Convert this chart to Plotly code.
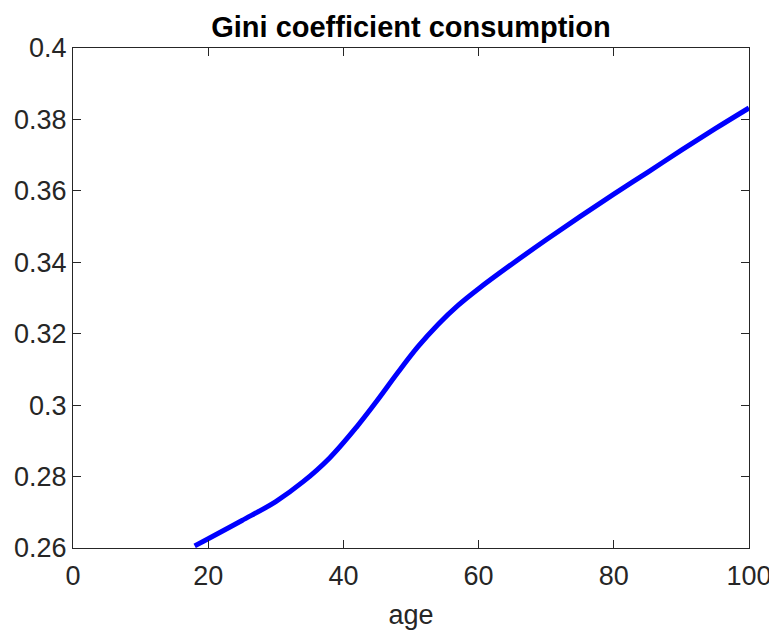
import plotly.graph_objects as go

age = [18, 20, 25, 30, 34, 38, 42, 45, 48, 51, 54, 57, 60, 65, 70, 75, 80, 85, 90, 95, 100]
gini = [0.2606, 0.2626, 0.2677, 0.2730, 0.2785, 0.2853, 0.2940, 0.3013, 0.3090, 0.3163,
        0.3226, 0.3280, 0.3326, 0.3396, 0.3463, 0.3528, 0.3591, 0.3652, 0.3714, 0.3774, 0.3832]

x_ticks = [0, 20, 40, 60, 80, 100]
y_ticks = [0.26, 0.28, 0.3, 0.32, 0.34, 0.36, 0.38, 0.4]
y_labels = ["0.26", "0.28", "0.3", "0.32", "0.34", "0.36", "0.38", "0.4"]

FONT = "Liberation Sans, Arial, Helvetica"

fig = go.Figure()
fig.add_trace(go.Scatter(x=age, y=gini, mode="lines",
                         line=dict(color="#0000FF", width=5, shape="spline", smoothing=1.0),
                         showlegend=False))

axis_common = dict(showgrid=False, zeroline=False, showline=True, mirror="ticks",
                   linecolor="#262626", linewidth=1, ticks="inside", ticklen=8,
                   tickcolor="#262626", tickwidth=1, automargin=False,
                   tickfont=dict(family=FONT, size=27, color="#262626"))

# page body has an 8px default margin, so the figure is sized to fit the window
fig.update_layout(
    width=769, height=626,
    margin=dict(l=65, r=28, t=40, b=86),
    paper_bgcolor="white", plot_bgcolor="white",
    title=dict(text="<b>Gini coefficient consumption</b>", x=(65 + 338) / 769, xanchor="center",
               y=1 - 19 / 626, yanchor="middle",
               font=dict(family=FONT, size=29, color="#000000")),
    xaxis=dict(range=[0, 100], tickvals=x_ticks, ticktext=[str(v) for v in x_ticks],
               ticklabelstandoff=4,
               title=dict(text="age", standoff=14,
                          font=dict(family=FONT, size=27, color="#262626")),
               **axis_common),
    yaxis=dict(range=[0.26, 0.4], tickvals=y_ticks, ticktext=y_labels, **axis_common),
)

fig.write_html("out.html")
